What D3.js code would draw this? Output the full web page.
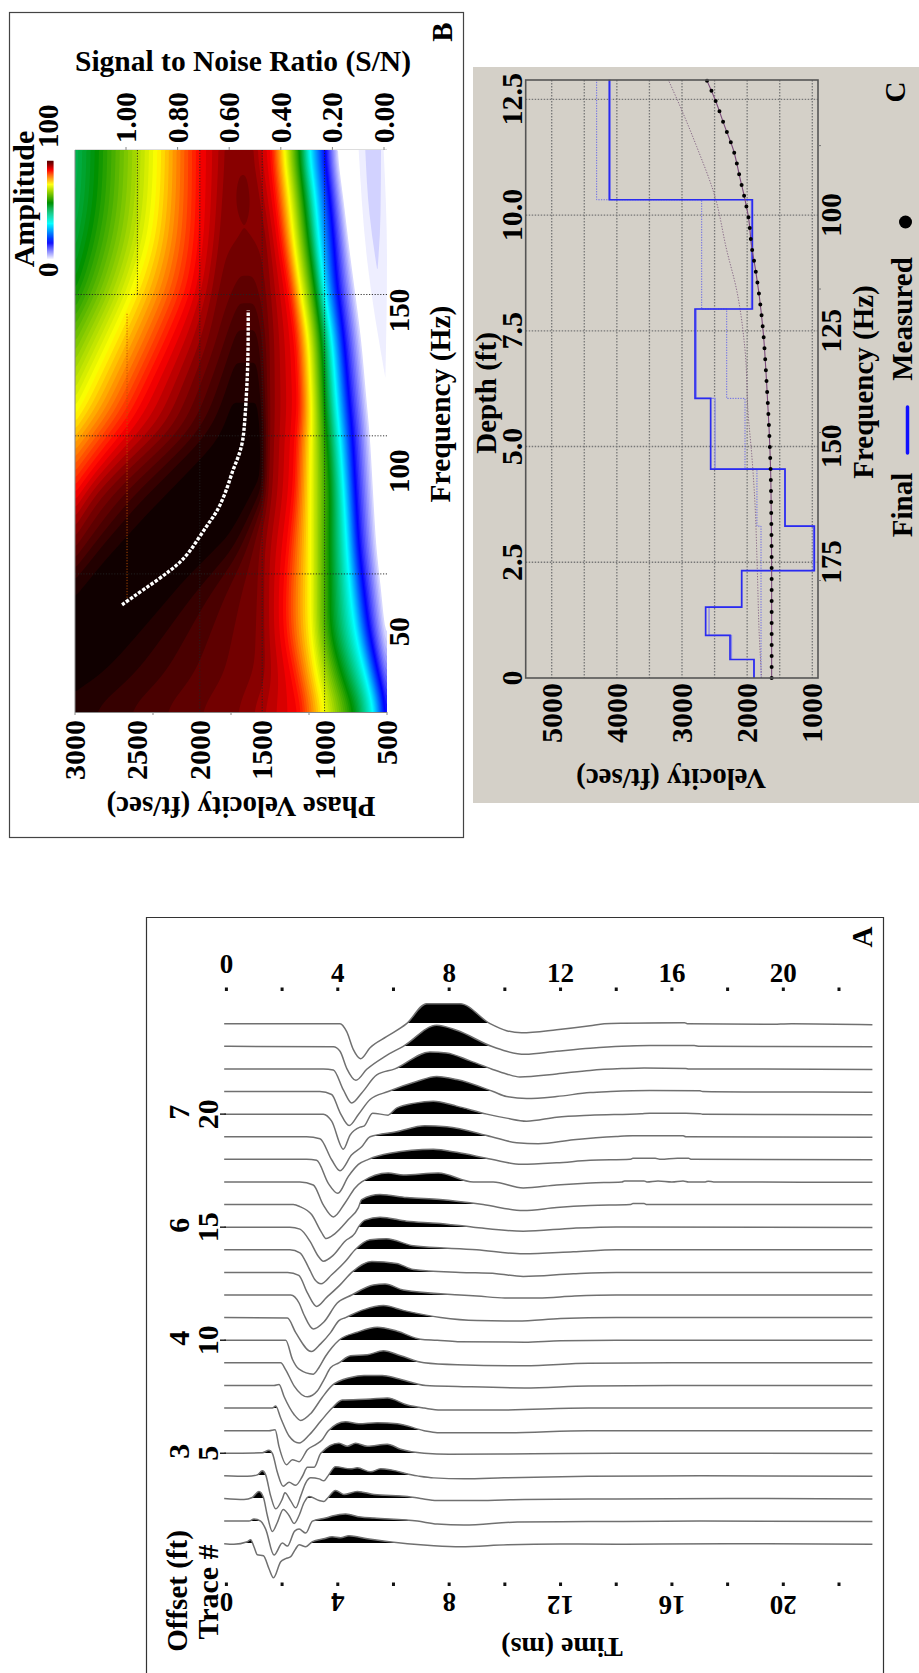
<!DOCTYPE html>
<html>
<head>
<meta charset="utf-8">
<script src="https://cdn.jsdelivr.net/npm/d3@7"></script>
<style>
body { margin: 0; background: #fff; }
text { font-family: "Liberation Serif", serif; font-weight: bold; fill: #000; }
</style>
</head>
<body>
<svg width="919" height="1673"></svg>
<script>
// ---- panel B: dispersion image, one column per amplitude level
var heatFreq   = [200, 185, 172, 157, 141, 117, 113, 94, 76, 63, 50, 35, 25];
var vWhite     = [888, 834, 794, 740, 687, 633, 620, 593, 567, 527, 500, 420, 366];
var vBlue      = [1003, 960, 928, 901, 847, 794, 781, 754, 727, 687, 647, 567, 505];
var vCyan      = [1128, 1075, 1048, 1008, 941, 896, 882, 847, 821, 794, 754, 660, 593];
var vGreen     = [1208, 1163, 1128, 1075, 1021, 994, 981, 954, 960, 954, 954, 847, 740];
var vYellow    = [1329, 1281, 1249, 1195, 1128, 1101, 1109, 1115, 1115, 1115, 1115, 1061, 994];
var vRed       = [1436, 1396, 1355, 1289, 1235, 1208, 1235, 1249, 1302, 1329, 1329, 1249, 1195];
var vDark      = [1610, 1543, 1489, 1462, 1436, 1436, 1436, 1449, 1516, 1516, 1516, 1516, 1676];
var vRidgeA    = [1636, 1623, 1610, 1569, 1543, 1529, 1516, 1516, 1810, 2211, 2532, 2906, 3334];
var vRidgeB    = [1676, 1676, 1663, 1676, 1703, 1757, 1810, 2265, 2719, 2997, 3334, 3869, 4136];
var ridgeAmp   = [0.93, 0.935, 0.93, 0.95, 0.975, 1, 1, 1, 1, 1, 1, 1, 1];
var vDarkHi    = [1757, 1783, 1810, 1864, 1944, 2184, 2238, 2799, 3067, 3334, 3869, 4404, 4671];
var vRedHi     = [2000, 2000, 2011, 2064, 2238, 2532, 2626, 2987, 3334, 3735, 4136, 4600, 5000];
var vYellowHi  = [2345, 2358, 2398, 2519, 2706, 3000, 3094, 3441, 3869, 4136, 4538, 4939, 5340];
var vGreenHi   = [2826, 2840, 2893, 3000, 3227, 3548, 3655, 4136, 4404, 4671, 4939, 5473, 6008];

var colorStops  = [0, 0.16, 0.35, 0.55, 0.73, 0.87, 0.93, 1];
var colorValues = ["#ffffff", "#0000ff", "#00ffff", "#009000", "#ffff00", "#ff0000", "#800000", "#100000"];

// faint side lobe near 500 ft/sec
var faintFreq  = [200, 166, 129];
var faintLo    = [527, 500, 513];
var faintHi    = [727, 660, 513];
var coreFreq   = [200, 180, 163];
var coreLo     = [548, 552, 575];
var coreHi     = [674, 640, 580];

// picked dispersion curve
var pickFreq = [58.4, 60.6, 63, 66, 69, 71.5, 75, 78.8, 83, 85.6, 89, 95.4, 100.6, 104, 109, 116, 133, 150];
var pickVel  = [2623, 2543, 2455, 2343, 2239, 2159, 2079, 2015, 1943, 1895, 1839, 1774, 1734, 1694, 1654, 1638, 1612, 1612];

var velTicksB   = [3000, 2500, 2000, 1500, 1000, 500];
var velMinorB   = [3000, 2375, 1750, 1125, 500];
var freqTicksB  = [50, 100, 150];
var snTicks     = [0, 0.2, 0.4, 0.6, 0.8, 1];
var snLabels    = ["0.00", "0.20", "0.40", "0.60", "0.80", "1.00"];
var gridFreqB   = [155, 111, 68];
var gridVelB    = [2000, 1500, 1000];

// ---- panel C: inversion result
var finalDepth = [0, 0.4, 0.92, 1.53, 2.32, 3.28, 4.51, 6.04, 7.97, 10.33, 12.92];
var finalVel   = [1895, 2263, 2637, 2084, 969, 1419, 2560, 2800, 1920, 4116];
var thinVel    = [1895, 2240, 2585, 2084, 985, 1419, 2493, 2780, 1935, 4100];
var startDepth = [0, 3.28, 4.51, 6.04, 7.97, 10.33, 12.92];
var startVel   = [1787, 1850, 2033, 2314, 2698, 4310];
var measDepth  = [0, 2.33, 3.41, 4.49, 5.43, 6.37, 7.45, 8.24, 8.89, 9.32, 9.97, 10.33, 10.8, 11.41, 11.9, 12.5, 12.92];
var measVel    = [1624, 1624, 1629, 1640, 1665, 1701, 1752, 1813, 1880, 1931, 1982, 2033, 2110, 2212, 2340, 2494, 2622];
var firstDepth = [0, 0.89, 2.33, 3.77, 4.85, 5.65, 7.09, 8.38, 9.25, 10.4, 11.48, 12.27, 12.92];
var firstVel   = [1778, 1813, 1844, 1880, 1931, 1982, 2033, 2161, 2315, 2494, 2775, 3005, 3210];
var velTicksC   = [1000, 2000, 3000, 4000, 5000];
var velGridC    = [1000, 1500, 2000, 2500, 3000, 3500, 4000, 4500, 5000];
var depthTicks  = [0, 2.5, 5, 7.5, 10, 12.5];
var depthLabels = ["0", "2.5", "5.0", "7.5", "10.0", "12.5"];
var freqTicksC  = [100, 125, 150, 175];
var freqMinorC  = [85, 116, 147, 179];

// ---- panel A: field records, [time ms, amplitude]
var timeTicks = [0, 4, 8, 12, 16, 20];
var timeMinor = [0, 2, 4, 6, 8, 10, 12, 14, 16, 18, 20, 22];
var traceLabels  = [5, 10, 15, 20];
var offsetLabels = [3, 4, 6, 7];

var trace1  = [[-0.08,0],[0.27,-0.5],[0.75,2],[0.87,4],[0.99,-3],[1.11,-11],[1.33,-12],[1.53,-25],[1.69,-34],[1.95,-18],[2.13,-15],[2.31,-13],[2.49,-5],[2.61,-1],[2.85,-3],[3.0,0],[3.09,2],[3.5,5],[3.8,7],[4.1,6],[4.4,8],[5.06,5],[6.5,0],[7.45,-2],[8.41,-3],[10.09,-1],[12,-0.3],[14,-0.5],[18,0],[23.2,-0.5]];
var trace2  = [[-0.08,0],[0.81,0],[0.99,2],[1.23,0],[1.41,-8],[1.71,-34],[2.01,-22],[2.19,-25],[2.45,-10],[2.61,-8],[2.85,-12],[3.09,0],[3.56,3],[3.8,5],[4.28,7],[4.82,4],[5.3,3],[6.86,0],[7.57,-3],[8.53,-4],[10.45,-1],[13,-0.5],[17,0],[23.2,-0.5]];
var trace3  = [[-0.08,0],[0.63,-1],[0.93,1],[1.17,7],[1.33,1],[1.47,-17],[1.65,-33],[1.83,-24],[2.04,-11],[2.25,-17],[2.43,-25],[2.61,-17],[2.79,-4],[2.97,2],[3.33,-2],[3.5,-3],[3.62,0],[3.92,8],[4.22,4],[4.7,7],[5.3,4],[6.5,2],[6.97,0],[7.57,-2],[9,-2],[10.7,-1],[14,-0.5],[18,0],[23.2,-0.5]];
var trace4  = [[-0.08,0],[0.75,-0.5],[1.11,1],[1.29,5],[1.41,1],[1.59,-20],[1.77,-33],[2.01,-23],[2.1,-17],[2.31,-25],[2.49,-32],[2.67,-20],[2.85,-7],[3.03,-2],[3.33,-3],[3.5,-5],[3.65,0],[3.92,9],[4.46,7],[4.7,8],[5.18,4],[5.54,7],[6.86,0],[7.45,-2],[8.53,-3],[9.97,-2],[13,-0.5],[17,0],[23.2,-0.3]];
var trace5  = [[-0.08,0],[1.29,0.5],[1.53,3],[1.65,0],[1.83,-19],[2.04,-33],[2.25,-29],[2.49,-32],[2.73,-23],[2.91,-14],[3.15,-14],[3.39,0],[4.04,10],[4.34,7],[4.64,10],[5.06,7],[5.78,9],[6.26,4],[7.1,0],[8,-1],[11,-0.5],[14,0],[19,0],[23.2,-0.3]];
var trace6  = [[-0.08,0],[1.53,0],[1.75,1],[1.89,-16],[2.16,-34],[2.37,-29],[2.61,-31],[2.91,-19],[3.21,-14],[3.44,-9],[3.66,0],[4.28,9],[4.76,7],[5.42,8],[6.14,7],[7.1,0],[7.57,-2],[10,-2],[13,0],[23.2,0]];
var trace7  = [[-0.08,0],[1.65,0],[1.77,2],[1.95,-10],[2.25,-28],[2.61,-35],[2.97,-27],[3.39,-13],[3.8,0],[4.16,8],[5.18,9],[5.78,10],[6.5,3],[7.1,0],[7.69,-2],[9.73,-2],[13,0],[17,0],[23.2,0]];
var trace8  = [[-0.08,0],[1.71,0],[1.89,1],[2.07,-11],[2.43,-29],[2.67,-35],[3.03,-28],[3.44,-12],[3.8,0],[4.46,8],[4.94,10],[5.6,10],[6.14,7],[7.16,0],[8.3,-1],[10.7,-2.5],[13,-0.5],[16,0],[23.2,0]];
var trace9  = [[-0.08,0],[1.95,0],[2.13,-7],[2.43,-23],[2.91,-34],[3.27,-28],[3.5,-17],[3.74,-5],[4.04,0],[4.46,7],[5.06,8],[5.64,12],[6.26,7],[7.1,0],[8.3,-2],[10.7,-3],[13,-0.5],[16,0],[23.2,0]];
var trace10 = [[-0.08,0],[2.13,0],[2.37,-19],[2.61,-29],[3.12,-34],[3.33,-27],[3.56,-16],[3.8,-7],[4.04,0],[4.7,8],[5.42,13],[6.14,9],[6.97,1],[7.57,0],[8.3,-1.5],[10.7,-2],[12,-0.5],[14,0],[23.2,0]];
var trace11 = [[-0.08,0],[2.19,-0.5],[2.49,-15],[3.05,-34],[3.39,-26],[3.74,-15],[4.04,-3],[4.28,0],[4.94,8],[5.64,12],[6.38,7],[7.69,0],[9,-3],[10.45,-3.3],[12,-1],[14,0],[23.2,0]];
var trace12 = [[-0.08,0],[2.31,0],[2.61,-8],[2.79,-20],[3.12,-34],[3.5,-27],[3.98,-8],[4.5,0],[5.28,10],[5.7,11],[6.35,5],[8.39,0],[9,-1],[10,-3],[11.2,-3],[12.5,-1],[14,0],[23.2,0]];
var trace13 = [[-0.08,0],[2.2,0],[2.6,-3],[2.9,-20],[3.24,-34],[3.6,-25],[4.1,-12],[4.5,0],[5.22,11],[6.11,9],[6.71,3],[8.39,0],[9.7,-1.3],[10.66,-4],[12.46,-1.3],[14,0],[23.2,0]];
var trace14 = [[-0.08,0],[2.28,0],[2.64,-3],[2.94,-17],[3.18,-30],[3.4,-34],[3.78,-25],[4.26,-12],[4.62,0],[5.16,10],[5.75,11],[6.71,4],[8.99,0],[10.66,-4],[12.46,-2],[14,0],[18,0],[23.2,0]];
var trace15 = [[-0.08,0],[2.28,0],[2.64,-2],[3.0,-14],[3.3,-29],[3.48,-34],[3.84,-28],[4.26,-14],[4.62,-6],[4.74,0],[4.98,7],[5.52,10],[6.47,6],[7.55,4],[8.87,0],[10.66,-4],[12.46,-1],[14,0.3],[23.2,-0.3]];
var trace16 = [[-0.08,0],[2.4,0],[2.64,-2],[3.06,-10],[3.42,-28],[3.58,-34],[3.9,-29],[4.38,-15],[4.74,-3],[4.86,5],[5.52,10],[6.47,7],[7.67,5],[9.22,0],[10.66,-6],[11.86,-3],[13.06,-1],[14.5,0],[14.6,1],[15,1],[15.1,0],[23.2,0]];
var trace17 = [[-0.08,0],[2.64,0],[3.12,-3],[3.48,-23],[3.84,-35],[4.26,-21],[4.62,-6],[4.86,0],[5.81,9],[6.35,7],[7.61,9],[8.87,0],[9.58,0],[10.66,-6],[11.86,-3],[13.06,-1],[14.2,0],[14.3,1],[15,1],[15.1,0],[15.5,1],[16,0],[16.4,1],[16.6,0],[17.2,0],[17.3,0.8],[17.5,0],[23.2,-0.3]];
var trace18 = [[-0.08,0],[2.88,0],[3.24,-1],[3.66,-24],[4.0,-34],[4.38,-17],[4.74,-5],[5.1,0],[5.87,6],[7.43,10],[8.27,7],[9.52,0],[10.6,-5],[11.86,-3.5],[13.06,-1],[14.5,0],[14.6,1],[15.4,1],[15.6,0],[16.2,1],[16.6,1],[16.7,0],[23.2,-0.3]];
var trace19 = [[-0.08,0],[2.88,0],[3.36,-2],[3.78,-23],[4.08,-34],[4.5,-18],[4.86,-10],[5.16,0],[6.11,5],[7.13,11],[7.91,10],[9.52,0],[10.42,-6],[11.2,-7],[12.46,-3],[14,0.3],[14.6,1],[16.4,1],[16.5,0],[23.2,-0.5]];
var trace20 = [[-0.08,0],[3.48,0],[3.78,-7],[4.2,-35],[4.44,-21],[4.8,-13],[4.94,-12],[5.25,1],[5.81,-1],[5.87,0],[6.11,6],[6.77,11],[7.43,13],[8.27,8],[9.35,0],[10.06,-4],[10.78,-7],[11.86,-3],[13.06,-1],[14.9,0.5],[15.2,1],[16.5,1],[17,0.5],[17.1,0],[23.2,-0.5]];
var trace21 = [[-0.08,0],[3.36,0],[3.78,-3],[4.08,-21],[4.41,-34],[4.74,-23],[5.16,-8],[5.81,0],[6.83,10],[7.55,15],[8.27,12],[9.58,0],[10.06,-5],[10.78,-7],[11.86,-5],[13.06,-1],[13.8,0],[15.2,1],[17,0.8],[17.1,0],[18.6,-0.4],[23.2,-0.6]];
var trace22 = [[-0.08,0],[3.48,0],[3.84,-1],[4.2,-21],[4.5,-34],[4.86,-24],[5.4,-6],[6.05,0],[7.31,17],[7.91,16],[8.75,8],[9.52,0],[10.06,-5],[10.54,-8],[11.86,-5],[13.06,-1.5],[14.2,0.3],[15,1],[16.5,0.5],[16.6,0],[23.2,-0.5]];
var trace23 = [[-0.08,0],[3.84,-0.5],[4.08,-5],[4.32,-22],[4.65,-34],[5.04,-23],[5.7,-10],[6.35,0],[7.55,21],[8.27,16],[9.52,0],[10.06,-5],[10.72,-8],[11.86,-5],[13.06,-2],[14.2,0],[15.2,0.7],[16.8,0.7],[17,0],[23.2,-0.5]];
var trace24 = [[-0.08,0],[4.08,0],[4.32,-8],[4.56,-26],[4.82,-35],[5.16,-24],[5.75,-13],[6.47,0],[7.19,20],[8.39,20],[9.47,0],[10.06,-7],[10.6,-9],[11.86,-6],[13.06,-2],[13.57,0],[14.25,0.5],[16.45,1],[16.55,0],[19.5,-0.6],[20.3,0],[23.2,-1]];
var traces = [trace1, trace2, trace3, trace4, trace5, trace6, trace7, trace8, trace9, trace10, trace11, trace12, trace13, trace14, trace15, trace16, trace17, trace18, trace19, trace20, trace21, trace22, trace23, trace24];

var svg = d3.select("svg");

// text helper, most of the figure is turned on its side
function label(g, str, x, y, angle, size, anchor) {
    g.append("text")
        .attr("transform", "translate(" + x + "," + y + ") rotate(" + angle + ")")
        .attr("text-anchor", anchor || "middle")
        .attr("font-size", size)
        .text(str);
}

drawPanelB();
drawPanelC();
drawPanelA();

function drawPanelB() {
    var g = svg.append("g");
    g.append("rect").attr("x", 9.5).attr("y", 12.5).attr("width", 454).attr("height", 825)
        .attr("fill", "#fff").attr("stroke", "#444").attr("stroke-width", 1.2);

    var velX = d3.scaleLinear().domain([3000, 500]).range([75, 387]);
    var freqY = d3.scaleLinear().domain([25, 200]).range([712, 150]);
    var snX = d3.scaleLinear().domain([0, 1]).range([384, 126]);
    var amp = d3.scaleLinear().domain(colorStops).range(colorValues).clamp(true);

    var knots = [vWhite, vBlue, vCyan, vGreen, vYellow, vRed, vDark, vRidgeA, vRidgeB, vDarkHi, vRedHi, vYellowHi, vGreenHi];
    var knotScales = knots.map(function(k) { return d3.scaleLinear().domain(heatFreq).range(k); });
    var ridge = d3.scaleLinear().domain(heatFreq).range(ridgeAmp);

    // sample the band positions onto a regular grid for d3.contours
    var step = 1.5, nx = Math.round(312 / step), ny = Math.round(562 / step);
    var values = new Float64Array(nx * ny);
    for (var j = 0; j < ny; j++) {
        var f = freqY.invert(150 + (j + 0.5) * step);
        var r = ridge(f);
        var vels = knotScales.map(function(s) { return s(f); });
        var levels = d3.scaleLinear().domain(vels).range([0, 0.16, 0.35, 0.55, 0.73, 0.87, 0.93, r, r, 0.93, 0.87, 0.73, 0.55]);
        for (var i = 0; i < nx; i++) {
            values[j * nx + i] = levels(velX.invert(75 + (i + 0.5) * step));
        }
    }
    // rows were read far apart, take the kinks out along frequency
    d3.blur2({data: values, width: nx, height: ny}, 0.5, 10);

    var thresholds = d3.range(0.02, 1.0, 0.0125);
    var contours = d3.contours().size([nx, ny]).smooth(true).thresholds(thresholds)(values);

    g.append("clipPath").attr("id", "heatClip").append("rect")
        .attr("x", 75).attr("y", 150).attr("width", 312).attr("height", 562);
    var heat = g.append("g").attr("clip-path", "url(#heatClip)");
    heat.append("g").attr("transform", "translate(75,150) scale(" + step + ")")
        .selectAll("path").data(contours).enter().append("path")
        .attr("d", d3.geoPath())
        .attr("fill", function(d) { return amp(d.value + 0.006); });

    // faint side lobe
    var lobe = d3.area().curve(d3.curveMonotoneY)
        .y(function(d) { return freqY(d[0]); })
        .x0(function(d) { return velX(d[1]); })
        .x1(function(d) { return velX(d[2]); });
    heat.append("path").attr("fill", "#eeeeff").attr("d", lobe(d3.zip(faintFreq, faintLo, faintHi)));
    heat.append("path").attr("fill", "#d2d2ff").attr("d", lobe(d3.zip(coreFreq, coreLo, coreHi)));

    // dotted grid
    var gridStyle = { stroke: "#222", dash: "1.2 1.6" };
    gridFreqB.forEach(function(fr) {
        heat.append("line").attr("x1", 75).attr("x2", 387).attr("y1", freqY(fr)).attr("y2", freqY(fr))
            .attr("stroke", gridStyle.stroke).attr("stroke-dasharray", gridStyle.dash).attr("stroke-width", 0.9);
    });
    gridVelB.forEach(function(v) {
        heat.append("line").attr("x1", velX(v)).attr("x2", velX(v)).attr("y1", 150).attr("y2", 712)
            .attr("stroke", gridStyle.stroke).attr("stroke-dasharray", gridStyle.dash).attr("stroke-width", 0.9);
    });
    heat.append("line").attr("x1", velX(2500)).attr("x2", velX(2500)).attr("y1", freqY(200)).attr("y2", freqY(155))
        .attr("stroke", gridStyle.stroke).attr("stroke-dasharray", gridStyle.dash).attr("stroke-width", 0.9);
    heat.append("line").attr("x1", velX(2583)).attr("x2", velX(2583)).attr("y1", freqY(149)).attr("y2", freqY(60))
        .attr("stroke", "#c05000").attr("stroke-dasharray", gridStyle.dash).attr("stroke-width", 0.9);

    // picks
    var pickLine = d3.line()
        .x(function(d) { return velX(d[1]); })
        .y(function(d) { return freqY(d[0]); })
        .curve(d3.curveBasis);
    g.append("path").attr("d", pickLine(d3.zip(pickFreq, pickVel)))
        .attr("fill", "none").attr("stroke", "#fff").attr("stroke-width", 3.4)
        .attr("stroke-dasharray", "3.4 1.6");

    // axes frame lines
    g.append("line").attr("x1", 75).attr("x2", 75).attr("y1", 150).attr("y2", 712).attr("stroke", "#888");
    g.append("line").attr("x1", 75).attr("x2", 387).attr("y1", 712.5).attr("y2", 712.5).attr("stroke", "#888");
    g.append("line").attr("x1", 75).attr("x2", 387).attr("y1", 149.5).attr("y2", 149.5).attr("stroke", "#ddd");
    velMinorB.forEach(function(v) {
        g.append("line").attr("x1", velX(v)).attr("x2", velX(v)).attr("y1", 712).attr("y2", 715).attr("stroke", "#888");
    });
    snTicks.forEach(function(s, i) {
        g.append("line").attr("x1", snX(s)).attr("x2", snX(s)).attr("y1", 147).attr("y2", 150).attr("stroke", "#888");
        label(g, snLabels[i], snX(s) + 10, 143, -90, 29, "start");
    });
    velTicksB.forEach(function(v) {
        label(g, v, velX(v) + 10, 720, -90, 30, "end");
    });
    freqTicksB.forEach(function(fr) {
        label(g, fr, 409, freqY(fr), -90, 29);
    });

    label(g, "Signal to Noise Ratio (S/N)", 243, 71, 0, 29.5);
    label(g, "Phase Velocity (ft/sec)", 241, 797, 180, 29);
    label(g, "Frequency (Hz)", 450, 404, -90, 29.5);
    label(g, "B", 452, 32, -90, 29);

    // colour bar
    var barY = d3.scaleLinear().domain([0, 1]).range([260, 157]);
    g.selectAll(".bar").data(d3.range(0, 0.96, 0.01)).enter().append("rect")
        .attr("x", 47).attr("width", 6.5)
        .attr("y", function(d) { return barY(d) - 1.4; })
        .attr("height", 1.4)
        .attr("fill", function(d) { return amp(d); });
    label(g, "Amplitude", 34, 199, -90, 30);
    label(g, "100", 58, 148, -90, 29, "start");
    label(g, "0", 58, 277, -90, 29, "start");
}

function drawPanelC() {
    var g = svg.append("g");
    g.append("rect").attr("x", 473).attr("y", 67).attr("width", 446).attr("height", 736).attr("fill", "#d4d0c8");

    var velX = d3.scaleLinear().domain([1000, 5000]).range([812.3, 551.7]);
    var depthY = d3.scaleLinear().domain([0, 12.5]).range([678, 99.3]);
    var freqY = d3.scaleLinear().domain([100, 175]).range([215, 562]);
    var left = 525.7, right = 818, top = 80, bottom = 678;

    velGridC.forEach(function(v) {
        g.append("line").attr("x1", velX(v)).attr("x2", velX(v)).attr("y1", top).attr("y2", bottom)
            .attr("stroke", "#777").attr("stroke-width", 1.3).attr("stroke-dasharray", "1.5 1.5");
    });
    depthTicks.slice(1).forEach(function(d) {
        g.append("line").attr("x1", left).attr("x2", right).attr("y1", depthY(d)).attr("y2", depthY(d))
            .attr("stroke", "#777").attr("stroke-width", 1.3).attr("stroke-dasharray", "1.5 1.5");
    });

    // step profiles
    function steps(depths, vels) {
        var pts = [];
        vels.forEach(function(v, i) {
            pts.push([v, depths[i]]);
            pts.push([v, depths[i + 1]]);
        });
        return pts;
    }
    var line = d3.line()
        .x(function(d) { return velX(d[0]); })
        .y(function(d) { return depthY(d[1]); });
    var smooth = d3.line()
        .x(function(d) { return velX(d[0]); })
        .y(function(d) { return depthY(d[1]); })
        .curve(d3.curveMonotoneY);

    g.append("path").attr("d", line(steps(finalDepth, thinVel)))
        .attr("fill", "none").attr("stroke", "#8888e8").attr("stroke-width", 1.2);
    g.append("path").attr("d", line(steps(startDepth, startVel)))
        .attr("fill", "none").attr("stroke", "#6a6ae6").attr("stroke-width", 1).attr("stroke-dasharray", "1.3 1.3");
    g.append("path").attr("d", smooth(d3.zip(firstVel, firstDepth)))
        .attr("fill", "none").attr("stroke", "#806080").attr("stroke-width", 0.9).attr("stroke-dasharray", "1.3 1.5");
    g.append("path").attr("d", line(steps(finalDepth, finalVel)))
        .attr("fill", "none").attr("stroke", "#2a2af0").attr("stroke-width", 1.7);
    g.append("path").attr("d", smooth(d3.zip(measVel, measDepth)))
        .attr("fill", "none").attr("stroke", "#7a4a7a").attr("stroke-width", 1.1);
    g.append("path").attr("d", smooth(d3.zip(measVel, measDepth)))
        .attr("fill", "none").attr("stroke", "#000").attr("stroke-width", 4)
        .attr("stroke-linecap", "round").attr("stroke-dasharray", "0 11");

    g.append("rect").attr("x", left).attr("y", top).attr("width", right - left).attr("height", bottom - top)
        .attr("fill", "none").attr("stroke", "#555").attr("stroke-width", 1.6);

    velTicksC.forEach(function(v) {
        label(g, v, velX(v) + 10, 683, -90, 30, "end");
    });
    depthTicks.forEach(function(d, i) {
        label(g, depthLabels[i], 522, depthY(d), -90, 30);
    });
    freqTicksC.forEach(function(f) {
        label(g, f, 841, freqY(f), -90, 29);
    });
    freqMinorC.forEach(function(f) {
        g.append("line").attr("x1", right).attr("x2", right + 3).attr("y1", freqY(f)).attr("y2", freqY(f)).attr("stroke", "#777");
    });

    label(g, "Depth (ft)", 496, 393, -90, 29);
    label(g, "Frequency (Hz)", 873, 382, -90, 29);
    label(g, "Velocity (ft/sec)", 671, 769, 180, 29);
    label(g, "Final", 912, 505, -90, 29);
    label(g, "Measured", 912, 319, -90, 29);
    label(g, "C", 905, 92, -90, 29);

    // legend keys
    g.append("line").attr("x1", 907.5).attr("x2", 907.5).attr("y1", 407).attr("y2", 453)
        .attr("stroke", "#1010ff").attr("stroke-width", 3.5).attr("stroke-linecap", "round");
    g.append("circle").attr("cx", 905.5).attr("cy", 222).attr("r", 6.5).attr("fill", "#000");
}

function drawPanelA() {
    var g = svg.append("g");
    // frame runs off the bottom of the page
    g.append("path").attr("d", "M146.5,1673V917.5H883.5V1673")
        .attr("fill", "none").attr("stroke", "#333").attr("stroke-width", 1.2);

    var timeX = d3.scaleLinear().domain([0, 22]).range([226.4, 839]);
    var traceY = d3.scaleLinear().domain([1, 24]).range([1543.7, 1023.7]);
    var ampY = d3.scaleLinear().domain([0, 1]).range([0, -1]); // amplitudes are read in picture units

    traces.forEach(function(tr, i) {
        var base = traceY(i + 1);
        var line = d3.line().curve(d3.curveMonotoneX)
            .x(function(d) { return timeX(d[0]); })
            .y(function(d) { return base + ampY(d[1]); });
        // positive half filled: same curve, closed on the baseline and clipped above it
        // clip edge on a whole pixel or the troughs get a grey hairline
        var clipBottom = Math.floor(base);
        g.append("clipPath").attr("id", "above" + i).append("rect")
            .attr("x", 220).attr("y", clipBottom - 40).attr("width", 660).attr("height", 40);
        g.append("path").attr("d", line(tr) + "V" + base + "H" + timeX(tr[0][0]) + "Z")
            .attr("fill", "#000").attr("clip-path", "url(#above" + i + ")");
        g.append("path").attr("d", line(tr)).attr("fill", "none").attr("stroke", "#707070").attr("stroke-width", 1.5);
    });

    // ticks are small square dots, top and bottom
    [989, 1584].forEach(function(y) {
        timeMinor.forEach(function(t) {
            g.append("rect").attr("x", timeX(t) - 1.5).attr("y", y - 1.5).attr("width", 3).attr("height", 3.5).attr("fill", "#111");
        });
    });
    timeTicks.forEach(function(t) {
        label(g, t, timeX(t), t === 0 ? 973 : 982, 0, 27);
        label(g, t, timeX(t), t < 12 ? 1593 : 1596, 180, 27);
    });

    traceLabels.forEach(function(n, i) {
        label(g, n, 218, traceY(n), -90, 30);
        label(g, offsetLabels[i], 189, traceY(n) - 2, -90, 30);
        g.append("line").attr("x1", 220).attr("x2", 226).attr("y1", traceY(n)).attr("y2", traceY(n)).attr("stroke", "#222").attr("stroke-width", 1.5);
    });
    label(g, "Offset (ft)", 187, 1591, -90, 29);
    label(g, "Trace #", 218, 1592, -90, 30);
    label(g, "Time (ms)", 562, 1638, 180, 28);
    label(g, "A", 872, 937, -90, 29);
}
</script>
</body>
</html>
